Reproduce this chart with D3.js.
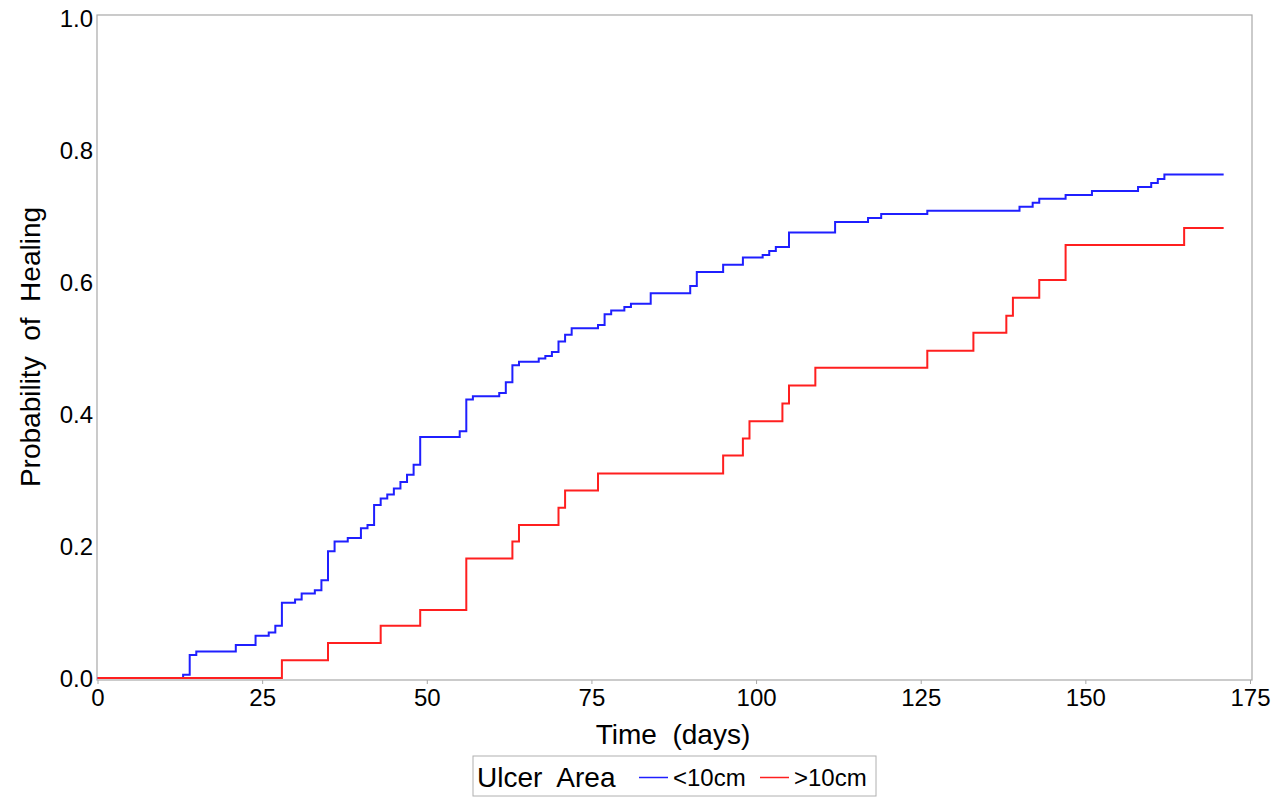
<!DOCTYPE html>
<html>
<head>
<meta charset="utf-8">
<script src="https://cdn.jsdelivr.net/npm/d3@7"></script>
<style>
  body { margin:0; background:#fff; }
  text { font-family: "Liberation Sans", Arial, sans-serif; fill:#000; }
</style>
</head>
<body>
<div id="chart"></div>
<script>
// KM healing curves
var smallTimes = [0,13,14,15,21,24,26,27,28,30,31,33,34,35,36,38,40,41,42,43,44,45,46,47,48,49,55,56,57,61,62,63,64,67,68,69,70,71,72,76,77,78,80,81,84,90,91,95,98,101,102,103,105,112,117,119,126,140,142,143,147,151,158,160,161,162,171];
var smallProb = [0,0.005,0.035,0.040,0.050,0.064,0.069,0.079,0.114,0.119,0.128,0.133,0.148,0.192,0.207,0.212,0.227,0.232,0.262,0.272,0.278,0.287,0.297,0.308,0.323,0.365,0.374,0.422,0.427,0.432,0.448,0.474,0.479,0.484,0.488,0.494,0.510,0.520,0.530,0.535,0.551,0.557,0.562,0.567,0.583,0.594,0.615,0.626,0.637,0.641,0.647,0.653,0.675,0.691,0.697,0.703,0.708,0.714,0.720,0.726,0.732,0.738,0.744,0.750,0.756,0.763,0.763];

var largeTimes = [0,28,35,43,49,56,63,64,70,71,76,95,98,99,104,105,109,126,133,138,139,143,147,165,171];
var largeProb = [0,0.027,0.053,0.079,0.103,0.181,0.207,0.232,0.258,0.284,0.310,0.337,0.363,0.389,0.416,0.443,0.470,0.496,0.523,0.549,0.576,0.603,0.656,0.682,0.682];

var xTicks = [0,25,50,75,100,125,150,175];
var yTicks = [0,0.2,0.4,0.6,0.8,1.0];

var groupNames = ["<10cm", ">10cm"];
var groupColors = ["#1f1fff", "#ff1f1f"];

var W = 1276, H = 799;
var svg = d3.select("#chart").append("svg").attr("width", W).attr("height", H);

var x = d3.scaleLinear().domain([0,175]).range([97.5,1250]);
var y = d3.scaleLinear().domain([0,1]).range([678,18]);

// frame
svg.append("rect")
  .attr("x",97).attr("y",15)
  .attr("width",1252-97).attr("height",680-15)
  .attr("fill","none").attr("stroke","#a8a8a8").attr("stroke-width",1.2);

// x axis, little ticks only
var xAxis = svg.append("g").attr("transform","translate(0,680)")
  .call(d3.axisBottom(x).tickValues(xTicks).tickSize(4).tickPadding(5).tickFormat(d3.format("d")));
xAxis.select(".domain").remove();
xAxis.selectAll("line").attr("stroke","#a8a8a8");
xAxis.selectAll("text").style("font-size","24px").attr("fill","#000");

// y axis labels, no marks
var yAxis = svg.append("g").attr("transform","translate(97,0)")
  .call(d3.axisLeft(y).tickValues(yTicks).tickSize(0).tickPadding(4).tickFormat(d3.format(".1f")));
yAxis.select(".domain").remove();
yAxis.selectAll("text").style("font-size","24px").attr("fill","#000").attr("dy","0.35em");

// axis titles
svg.append("text")
  .attr("x",673).attr("y",744)
  .attr("text-anchor","middle")
  .style("font-size","28px")
  .style("white-space","pre")
  .text("Time  (days)");

svg.append("text")
  .attr("transform","translate(40,347) rotate(-90)")
  .attr("text-anchor","middle")
  .style("font-size","28px")
  .style("white-space","pre")
  .text("Probability  of  Healing");

// step curves
var line = d3.line()
  .x(function(d){ return x(d[0]); })
  .y(function(d){ return y(d[1]); })
  .curve(d3.curveStepAfter);

var series = [d3.zip(smallTimes, smallProb), d3.zip(largeTimes, largeProb)];

series.forEach(function(s,i){
  svg.append("path")
    .datum(s)
    .attr("d", line)
    .attr("fill","none")
    .attr("stroke", groupColors[i])
    .attr("stroke-width",2);
});

// legend
var leg = svg.append("g");
leg.append("rect")
  .attr("x",473).attr("y",756).attr("width",403).attr("height",40)
  .attr("fill","#fff").attr("stroke","#b0b0b0").attr("stroke-width",1);
leg.append("text")
  .attr("x",477).attr("y",787)
  .style("font-size","28px")
  .style("white-space","pre")
  .text("Ulcer  Area");

var legX = [639, 760];
groupNames.forEach(function(n,i){
  leg.append("line")
    .attr("x1",legX[i]).attr("x2",legX[i]+29)
    .attr("y1",777.5).attr("y2",777.5)
    .attr("stroke",groupColors[i]).attr("stroke-width",1.5);
  leg.append("text")
    .attr("x",legX[i]+34).attr("y",786)
    .style("font-size","24px")
    .text(n);
});
</script>
</body>
</html>
